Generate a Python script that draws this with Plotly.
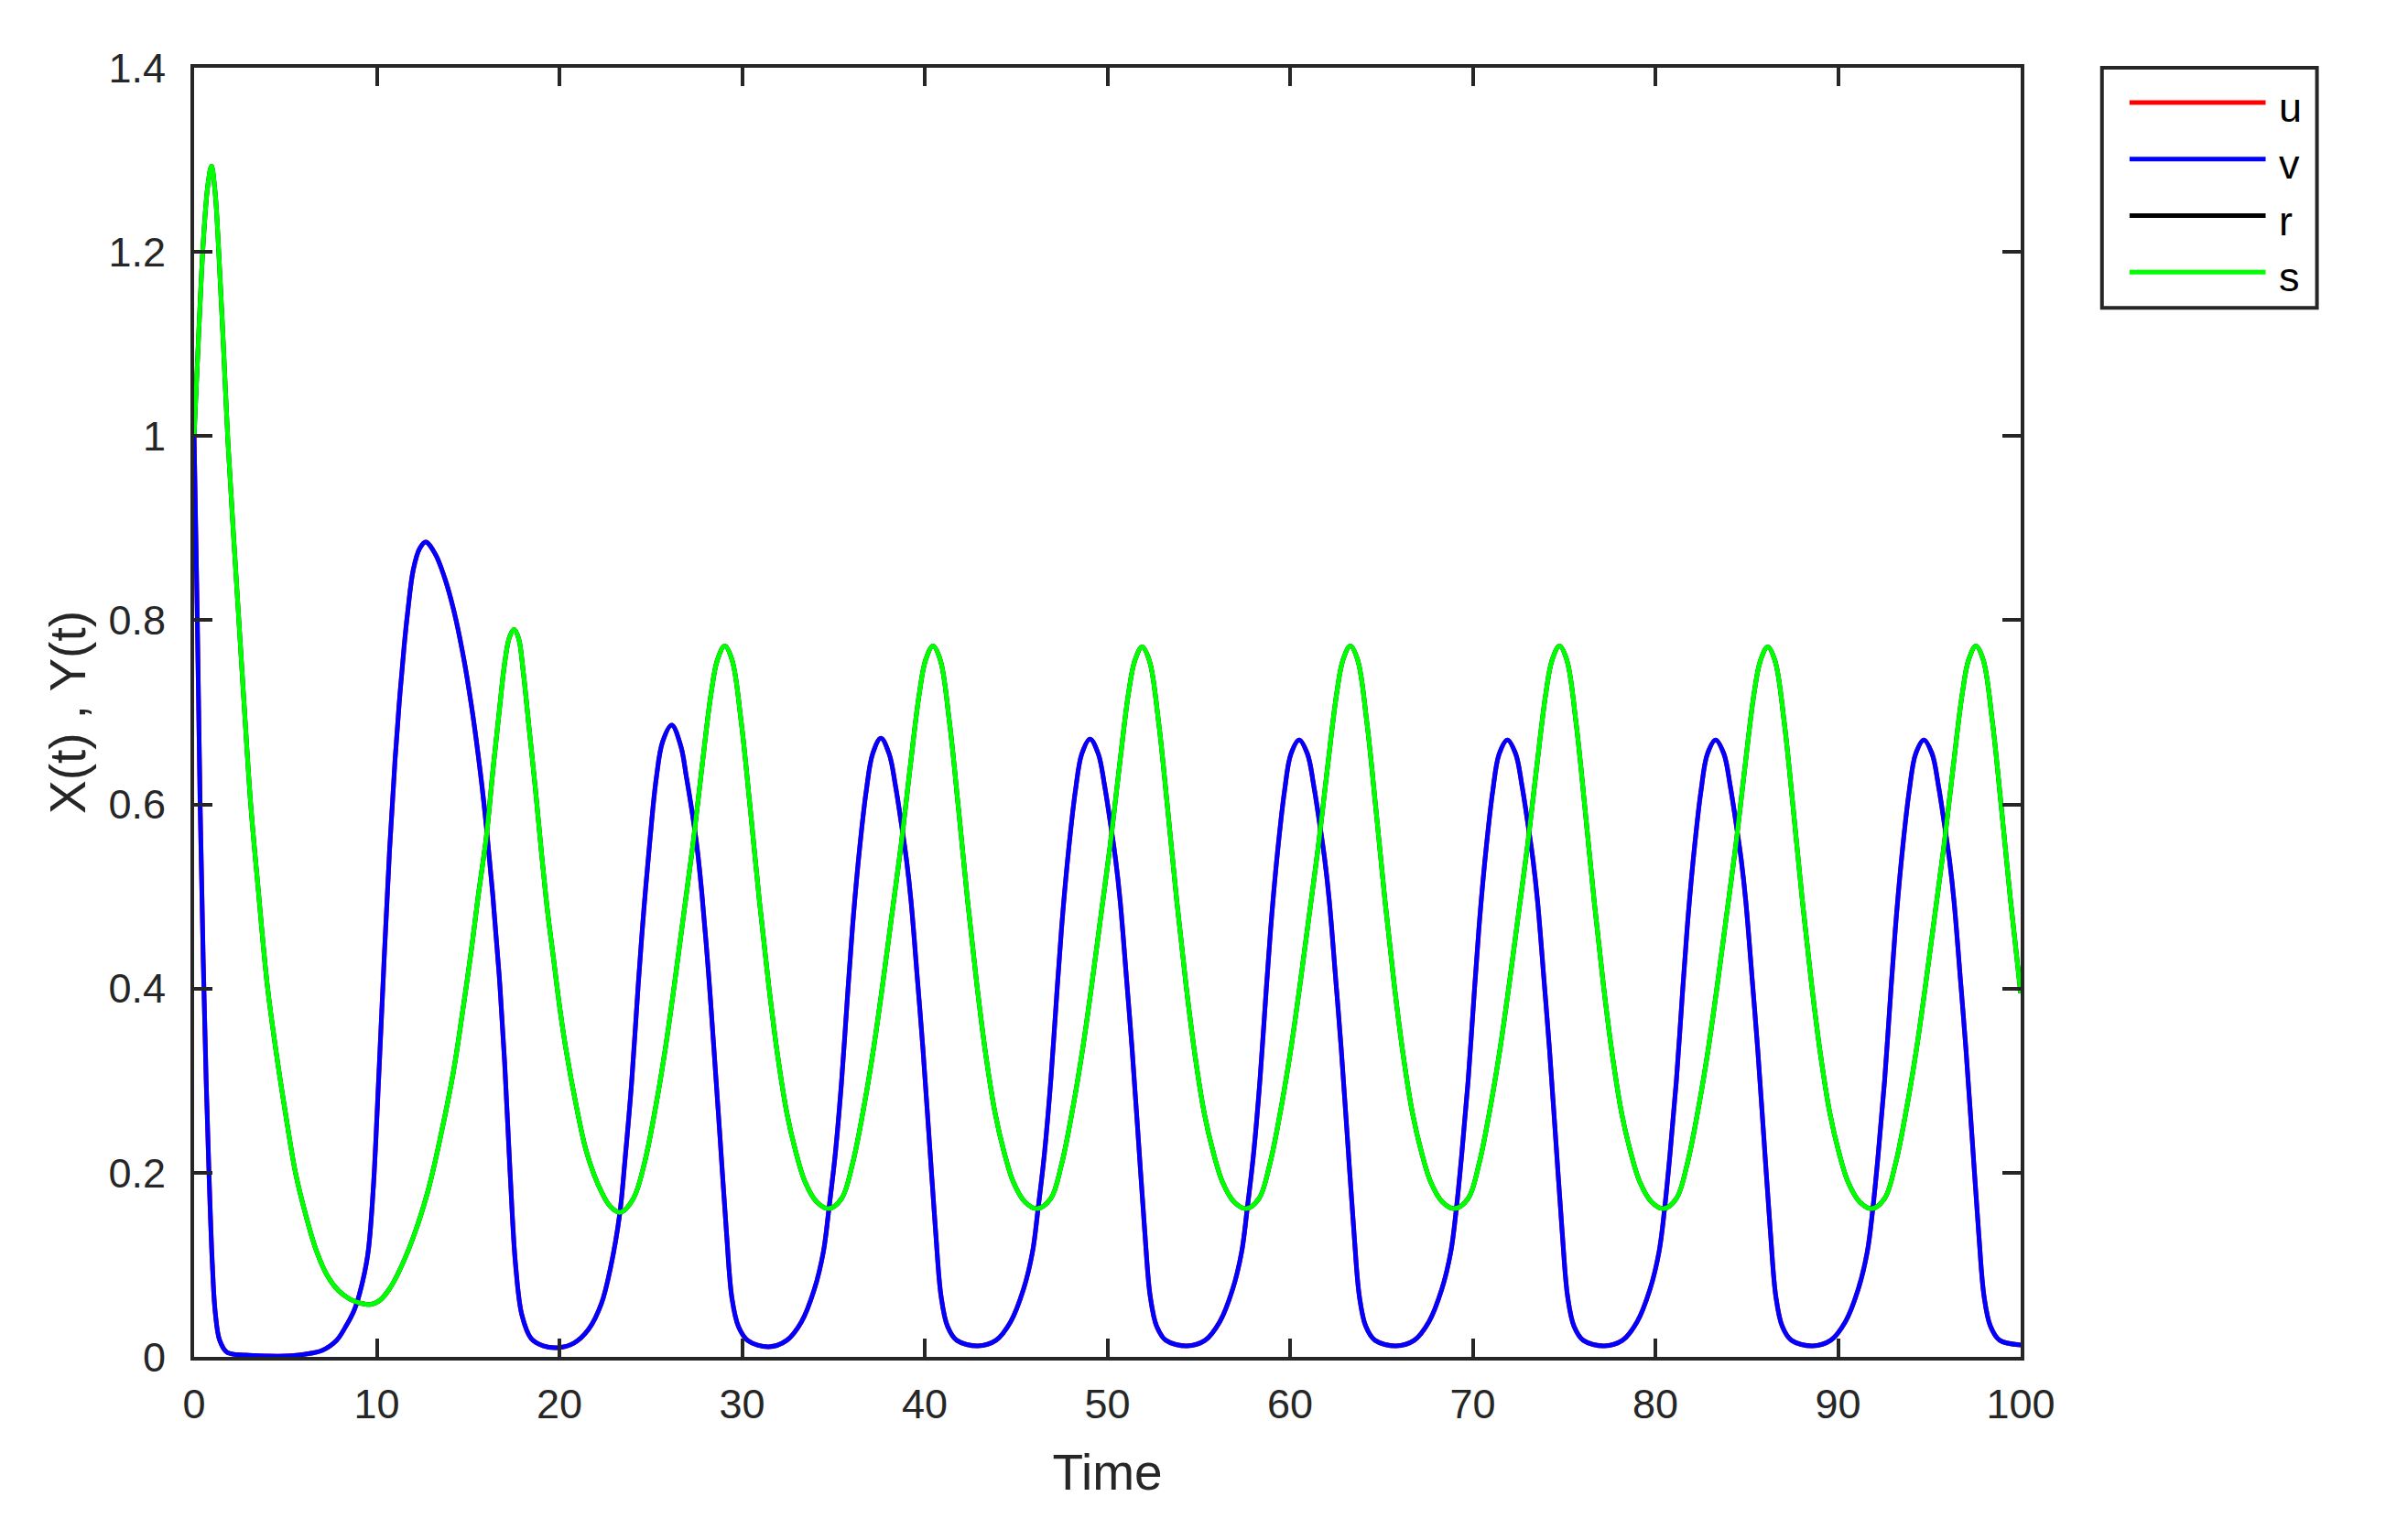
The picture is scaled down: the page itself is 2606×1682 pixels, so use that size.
import plotly.graph_objects as go

# v(t) (u lies exactly under v, so it shares the values)
t_v = [
    0, 0.17, 0.33, 0.5, 0.66, 0.83, 1.0, 1.16, 1.4, 1.8, 2.8, 4.0, 5.0, 6.1, 7.0,
    7.8, 8.3, 8.75, 9.05, 9.5, 9.8, 10.1, 10.4, 10.7, 11.0, 11.25, 11.5, 11.7,
    12.0, 12.35, 12.68, 13.2, 13.7, 14.2, 14.7, 15.2, 15.7, 16.0, 16.35, 16.7,
    17.0, 17.3, 17.6, 17.95, 18.45, 19.1, 19.95, 20.8, 21.6, 22.3, 22.8, 23.3,
    23.6, 23.95, 24.3, 24.6, 24.95, 25.3, 25.65, 26.15, 26.65, 26.95, 27.3, 27.55,
    27.8, 28.15, 28.45, 28.8, 29.15, 29.45, 29.8, 30.3, 31.45, 32.45, 33.25,
    33.95, 34.45, 34.75,
    35.1, 35.45, 35.8, 36.1, 36.45, 36.8, 37.15, 37.6, 38.05, 38.4, 38.75, 39.0,
    39.25, 39.6, 39.9, 40.25, 40.6, 40.9, 41.25, 41.75, 42.9, 43.9, 44.7, 45.4,
    45.9, 46.2,
    46.55, 46.9, 47.25, 47.55, 47.9, 48.25, 48.6, 49.05, 49.5, 49.85, 50.2, 50.45,
    50.7, 51.05, 51.35, 51.7, 52.05, 52.35, 52.7, 53.2, 54.35, 55.35, 56.15,
    56.85, 57.35, 57.65,
    58.0, 58.35, 58.7, 59.0, 59.35, 59.7, 60.05, 60.5, 60.95, 61.3, 61.65, 61.9,
    62.15, 62.5, 62.8, 63.15, 63.5, 63.8, 64.15, 64.65, 65.8, 66.8, 67.6, 68.3,
    68.8, 69.1,
    69.4, 69.75, 70.1, 70.4, 70.75, 71.1, 71.45, 71.9, 72.35, 72.7, 73.05, 73.3,
    73.55, 73.9, 74.2, 74.55, 74.9, 75.2, 75.55, 76.05, 77.2, 78.2, 79.0, 79.7,
    80.2, 80.5,
    80.8, 81.15, 81.5, 81.8, 82.15, 82.5, 82.85, 83.3, 83.75, 84.1, 84.45, 84.7,
    84.95, 85.3, 85.6, 85.95, 86.3, 86.6, 86.95, 87.45, 88.6, 89.6, 90.4, 91.1,
    91.6, 91.9,
    92.2, 92.55, 92.9, 93.2, 93.55, 93.9, 94.25, 94.7, 95.15, 95.5, 95.85, 96.1,
    96.35, 96.7, 97.0, 97.35, 97.7, 98.0, 98.35, 98.85, 100.0,
]
v_vals = [
    1.0, 0.81, 0.60, 0.43, 0.30, 0.19, 0.10, 0.048, 0.018, 0.005, 0.002, 0.001,
    0.001, 0.003, 0.007, 0.018, 0.033, 0.05, 0.068, 0.11, 0.18, 0.30, 0.43, 0.55,
    0.648, 0.715, 0.772, 0.81, 0.855, 0.878, 0.885, 0.872, 0.847, 0.812, 0.765,
    0.705, 0.63, 0.576, 0.502, 0.415, 0.32, 0.2, 0.1, 0.045, 0.02, 0.012, 0.01,
    0.015, 0.03, 0.058, 0.097, 0.155,
    0.216, 0.297, 0.40, 0.48, 0.56, 0.628, 0.668, 0.686, 0.663, 0.63, 0.587,
    0.551, 0.503, 0.42, 0.337, 0.236, 0.134, 0.063, 0.033, 0.018, 0.011, 0.018,
    0.038, 0.073, 0.114, 0.16,
    0.22, 0.30, 0.40, 0.48, 0.555, 0.615, 0.655, 0.672, 0.655, 0.62, 0.575, 0.54,
    0.495, 0.41, 0.335, 0.235, 0.135, 0.065, 0.033, 0.018, 0.012, 0.018, 0.038,
    0.073, 0.114, 0.16,
    0.22, 0.30, 0.40, 0.48, 0.555, 0.615, 0.655, 0.671, 0.655, 0.62, 0.575, 0.54,
    0.495, 0.41, 0.335, 0.235, 0.135, 0.065, 0.033, 0.018, 0.012, 0.018, 0.038,
    0.073, 0.114, 0.16,
    0.22, 0.30, 0.40, 0.48, 0.555, 0.615, 0.655, 0.670, 0.655, 0.62, 0.575, 0.54,
    0.495, 0.41, 0.335, 0.235, 0.135, 0.065, 0.033, 0.018, 0.012, 0.018, 0.038,
    0.073, 0.114, 0.16,
    0.22, 0.30, 0.40, 0.48, 0.555, 0.615, 0.655, 0.670, 0.655, 0.62, 0.575, 0.54,
    0.495, 0.41, 0.335, 0.235, 0.135, 0.065, 0.033, 0.018, 0.012, 0.018, 0.038,
    0.073, 0.114, 0.16,
    0.22, 0.30, 0.40, 0.48, 0.555, 0.615, 0.655, 0.670, 0.655, 0.62, 0.575, 0.54,
    0.495, 0.41, 0.335, 0.235, 0.135, 0.065, 0.033, 0.018, 0.012, 0.018, 0.038,
    0.073, 0.114, 0.16,
    0.22, 0.30, 0.40, 0.48, 0.555, 0.615, 0.655, 0.670, 0.655, 0.62, 0.575, 0.54,
    0.495, 0.41, 0.335, 0.235, 0.135, 0.065, 0.033, 0.018, 0.013,
]

# s(t) (r lies exactly under s)
t_s = [
    0, 0.25, 0.5, 0.75, 0.95, 1.15, 1.35, 1.6, 1.85, 2.15, 2.45, 2.75, 3.1, 3.5,
    4.0, 4.5, 5.0, 5.55, 6.1, 6.7, 7.3, 7.9, 8.5, 9.0, 9.65, 10.2, 10.7, 11.2,
    12.0, 12.8, 13.5, 14.2, 14.7, 15.2, 15.55, 16.0, 16.35, 16.7, 17.0, 17.27,
    17.52, 17.77, 18.02, 18.35, 18.68, 19.02, 19.35, 19.7, 20.0, 20.35, 20.95,
    21.45, 22.1, 22.8, 23.35,
    24.05, 24.65, 25.3, 25.8, 26.3, 26.8, 27.3, 27.8, 28.3, 28.65, 29.05, 29.45,
    29.95, 30.45, 30.95, 31.45, 31.95, 32.45, 32.95, 33.45, 34.1, 34.75,
    35.45, 36.05, 36.7, 37.2, 37.7, 38.2, 38.7, 39.2, 39.7, 40.05, 40.45, 40.85,
    41.35, 41.85, 42.35, 42.85, 43.35, 43.85, 44.35, 44.85, 45.5, 46.15,
    46.9, 47.5, 48.15, 48.65, 49.15, 49.65, 50.15, 50.65, 51.15, 51.5, 51.9, 52.3,
    52.8, 53.3, 53.8, 54.3, 54.8, 55.3, 55.8, 56.3, 56.95, 57.6,
    58.3, 58.9, 59.55, 60.05, 60.55, 61.05, 61.55, 62.05, 62.55, 62.9, 63.3, 63.7,
    64.2, 64.7, 65.2, 65.7, 66.2, 66.7, 67.2, 67.7, 68.35, 69.0,
    69.75, 70.35, 71.0, 71.5, 72.0, 72.5, 73.0, 73.5, 74.0, 74.35, 74.75, 75.15,
    75.65, 76.15, 76.65, 77.15, 77.65, 78.15, 78.65, 79.15, 79.8, 80.45,
    81.15, 81.75, 82.4, 82.9, 83.4, 83.9, 84.4, 84.9, 85.4, 85.75, 86.15, 86.55,
    87.05, 87.55, 88.05, 88.55, 89.05, 89.55, 90.05, 90.55, 91.2, 91.85,
    92.55, 93.15, 93.8, 94.3, 94.8, 95.3, 95.8, 96.3, 96.8, 97.15, 97.55, 97.95,
    98.45, 98.95, 99.45, 100.0,
]
s_vals = [
    1.0, 1.11, 1.21, 1.272, 1.293, 1.265, 1.2, 1.1, 0.995, 0.895, 0.80, 0.705, 0.60,
    0.51, 0.405, 0.33, 0.265, 0.20, 0.155, 0.115, 0.088, 0.072, 0.063, 0.059,
    0.057, 0.062, 0.074, 0.092, 0.13, 0.18, 0.24, 0.31, 0.375, 0.445, 0.50, 0.565,
    0.635, 0.70, 0.753, 0.782, 0.79, 0.78, 0.744, 0.681, 0.618, 0.547, 0.484,
    0.429, 0.382, 0.335, 0.27, 0.225, 0.188, 0.163, 0.157,
    0.172, 0.21, 0.275, 0.335, 0.405, 0.48, 0.555, 0.64, 0.72, 0.757, 0.772,
    0.757, 0.69, 0.595, 0.495, 0.405, 0.327, 0.265, 0.222, 0.19, 0.168, 0.161,
    0.172, 0.21, 0.275, 0.335, 0.405, 0.48, 0.555, 0.64, 0.72, 0.757, 0.772,
    0.757, 0.69, 0.595, 0.495, 0.405, 0.327, 0.265, 0.222, 0.19, 0.168, 0.161,
    0.172, 0.21, 0.275, 0.335, 0.405, 0.48, 0.555, 0.64, 0.72, 0.756, 0.771,
    0.756, 0.69, 0.595, 0.495, 0.405, 0.327, 0.265, 0.222, 0.19, 0.168, 0.161,
    0.172, 0.21, 0.275, 0.335, 0.405, 0.48, 0.555, 0.64, 0.72, 0.757, 0.772,
    0.757, 0.69, 0.595, 0.495, 0.405, 0.327, 0.265, 0.222, 0.19, 0.168, 0.161,
    0.172, 0.21, 0.275, 0.335, 0.405, 0.48, 0.555, 0.64, 0.72, 0.757, 0.772,
    0.757, 0.69, 0.595, 0.495, 0.405, 0.327, 0.265, 0.222, 0.19, 0.168, 0.161,
    0.172, 0.21, 0.275, 0.335, 0.405, 0.48, 0.555, 0.64, 0.72, 0.756, 0.771,
    0.756, 0.69, 0.595, 0.495, 0.405, 0.327, 0.265, 0.222, 0.19, 0.168, 0.161,
    0.172, 0.21, 0.275, 0.335, 0.405, 0.48, 0.555, 0.64, 0.72, 0.757, 0.772,
    0.757, 0.69, 0.595, 0.495, 0.395,
]

series_names = ['u', 'v', 'r', 's']
series_colors = ['#ff0000', '#0000ff', '#000000', '#00ff00']
series_t = [t_v, t_v, t_s, t_s]
series_y = [v_vals, v_vals, s_vals, s_vals]

x_ticks = [0, 10, 20, 30, 40, 50, 60, 70, 80, 90, 100]
y_ticks = [0, 0.2, 0.4, 0.6, 0.8, 1.0, 1.2, 1.4]

axis_col = '#262626'
font_name = 'Liberation Sans, Arial, sans-serif'

fig = go.Figure()
for name, col, tt, yy in zip(series_names, series_colors, series_t, series_y):
    fig.add_trace(go.Scatter(x=tt, y=yy, name=name, mode='lines',
                             line=dict(color=col, width=5, shape='spline', smoothing=1.0),
                             showlegend=False))

axis_common = dict(showline=True, linecolor=axis_col, linewidth=4, mirror='ticks',
                   ticks='inside', ticklen=20, tickwidth=4, tickcolor=axis_col,
                   showgrid=False, zeroline=False,
                   tickfont=dict(family=font_name, size=45, color=axis_col))

fig.update_xaxes(range=[0, 100], tickvals=x_ticks, ticklabelstandoff=9,
                 title=dict(text='Time', font=dict(family=font_name, size=55, color=axis_col),
                            standoff=31),
                 **axis_common)
fig.update_yaxes(range=[0, 1.4], tickvals=y_ticks,
                 ticktext=[f'{v:g}' for v in y_ticks], ticklabelstandoff=18,
                 title=dict(text='X(t) , Y(t)', font=dict(family=font_name, size=55, color=axis_col),
                            standoff=8),
                 **axis_common)

# legend box drawn by hand so the sample lines are as long as in the original
shapes = [dict(type='rect', xref='paper', yref='paper', x0=1.0445, x1=1.1622,
               y0=0.8137, y1=1.0, line=dict(color=axis_col, width=4), fillcolor='white')]
annotations = []
leg_y = [0.9731, 0.9292, 0.8853, 0.8414]
for name, col, ly in zip(series_names, series_colors, leg_y):
    shapes.append(dict(type='line', xref='paper', yref='paper', x0=1.0596, x1=1.1341,
                       y0=ly, y1=ly, line=dict(color=col, width=5)))
    annotations.append(dict(xref='paper', yref='paper', x=1.1405, y=ly - 0.004,
                            xanchor='left', yanchor='middle', text=name, showarrow=False,
                            font=dict(family=font_name, size=45, color='#000000')))

fig.update_layout(width=2606, height=1682, autosize=False,
                  margin=dict(l=204, r=407, t=66, b=208),
                  paper_bgcolor='white', plot_bgcolor='white',
                  shapes=shapes, annotations=annotations, showlegend=False)

fig.write_html("out.html")
